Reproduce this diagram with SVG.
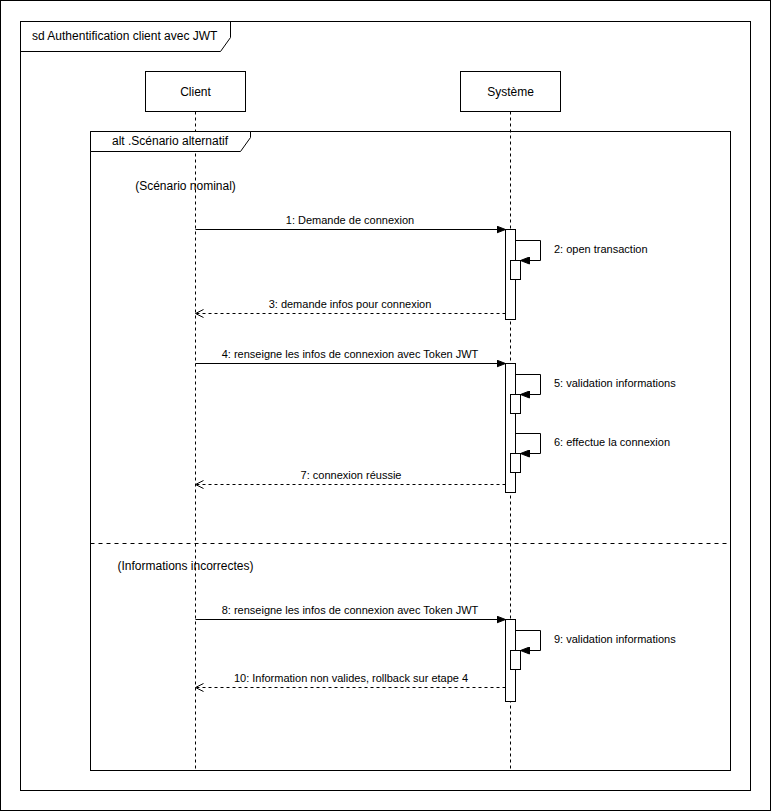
<svg xmlns="http://www.w3.org/2000/svg" width="771" height="811" viewBox="0 0 771 811">
  <style>
    .box { fill: #ffffff; stroke: #000000; stroke-width: 1; }
    .line { fill: none; stroke: #000000; stroke-width: 1; }
    .life { fill: none; stroke: #000000; stroke-width: 1; stroke-dasharray: 3 3; }
    .ret { fill: none; stroke: #000000; stroke-width: 1; stroke-dasharray: 3 3; }
    .sep { fill: none; stroke: #000000; stroke-width: 1; stroke-dasharray: 4 4; }
    text { font-family: "Liberation Sans", Arial, Helvetica, sans-serif; fill: #000000; }
    .t12 { font-size: 12px; }
    .t11 { font-size: 11px; }
  </style>
  <defs>
    <marker id="block" markerWidth="10" markerHeight="8" refX="9" refY="4" orient="auto" markerUnits="userSpaceOnUse">
      <path d="M0,0.5 L9,4 L0,7.5 Z" fill="#000000" stroke="#000000" stroke-width="1"/>
    </marker>
    <marker id="open" markerWidth="11" markerHeight="10" refX="9" refY="5" orient="auto" markerUnits="userSpaceOnUse">
      <path d="M1,1 L9,5 L1,9" fill="none" stroke="#000000" stroke-width="1"/>
    </marker>
  </defs>

  <rect x="0" y="0" width="771" height="811" fill="#ffffff"/>
  <rect class="box" x="0.5" y="0.5" width="770" height="810"/>

  <!-- sd frame -->
  <g id="frame-sd">
    <rect class="box" x="20.5" y="21.5" width="730" height="769"/>
    <path class="line" d="M20.5,51.5 H220.5 L230.5,37.5 V21.5"/>
    <text class="t12" x="32" y="40">sd Authentification client avec JWT</text>
  </g>

  <!-- lifelines -->
  <g id="client">
    <line class="life" x1="195.5" y1="111.5" x2="195.5" y2="770"/>
    <rect class="box" x="145.5" y="71.5" width="100" height="40"/>
    <text class="t12" x="195.5" y="96" text-anchor="middle">Client</text>
  </g>
  <g id="systeme">
    <line class="life" x1="510.5" y1="111.5" x2="510.5" y2="770"/>
    <rect class="box" x="460.5" y="71.5" width="100" height="40"/>
    <text class="t12" x="510.5" y="96" text-anchor="middle">Système</text>
  </g>

  <!-- alt fragment -->
  <g id="alt">
    <rect x="90.5" y="131.5" width="640" height="639" fill="none" stroke="#000000"/>
    <path class="box" d="M90.5,131.5 H250.5 V137.5 L240.5,151.5 H90.5 Z"/>
    <text class="t12" x="170" y="145" text-anchor="middle">alt .Scénario alternatif</text>
    <line class="sep" x1="90.5" y1="543.5" x2="730.5" y2="543.5"/>
    <text class="t12" x="185.5" y="190" text-anchor="middle">(Scénario nominal)</text>
    <text class="t12" x="185.5" y="570" text-anchor="middle">(Informations incorrectes)</text>
  </g>

  <!-- activations -->
  <g id="activation-1">
    <rect class="box" x="505.5" y="229.5" width="10" height="90"/>
    <rect class="box" x="510.5" y="260.5" width="10" height="19"/>
  </g>
  <g id="activation-2">
    <rect class="box" x="505.5" y="363.5" width="10" height="129"/>
    <rect class="box" x="510.5" y="394.5" width="10" height="19"/>
    <rect class="box" x="510.5" y="453.5" width="10" height="19"/>
  </g>
  <g id="activation-3">
    <rect class="box" x="505.5" y="619.5" width="10" height="82"/>
    <rect class="box" x="510.5" y="650.5" width="10" height="19"/>
  </g>

  <!-- messages -->
  <g id="connectors">
    <line class="line" x1="195.5" y1="229.5" x2="505.5" y2="229.5" marker-end="url(#block)"/>
    <path class="line" d="M515.5,240.5 H540.5 V260.5 H520.5" marker-end="url(#block)"/>
    <line class="ret" x1="505.5" y1="313.5" x2="195.5" y2="313.5" marker-end="url(#open)"/>
    <line class="line" x1="195.5" y1="363.5" x2="505.5" y2="363.5" marker-end="url(#block)"/>
    <path class="line" d="M515.5,374.5 H540.5 V394.5 H520.5" marker-end="url(#block)"/>
    <path class="line" d="M515.5,433.5 H540.5 V453.5 H520.5" marker-end="url(#block)"/>
    <line class="ret" x1="505.5" y1="484.5" x2="195.5" y2="484.5" marker-end="url(#open)"/>
    <line class="line" x1="195.5" y1="619.5" x2="505.5" y2="619.5" marker-end="url(#block)"/>
    <path class="line" d="M515.5,630.5 H540.5 V650.5 H520.5" marker-end="url(#block)"/>
    <line class="ret" x1="505.5" y1="687.5" x2="195.5" y2="687.5" marker-end="url(#open)"/>
  </g>

  <!-- message labels -->
  <g id="labels">
    <text class="t11" x="350" y="224" text-anchor="middle">1: Demande de connexion</text>
    <text class="t11" x="554" y="253">2: open transaction</text>
    <text class="t11" x="350" y="308" text-anchor="middle">3: demande infos pour connexion</text>
    <text class="t11" x="350" y="358" text-anchor="middle">4: renseigne les infos de connexion avec Token JWT</text>
    <text class="t11" x="554" y="387">5: validation informations</text>
    <text class="t11" x="554" y="446">6: effectue la connexion</text>
    <text class="t11" x="351" y="479" text-anchor="middle">7: connexion réussie</text>
    <text class="t11" x="350" y="614" text-anchor="middle">8: renseigne les infos de connexion avec Token JWT</text>
    <text class="t11" x="554" y="643">9: validation informations</text>
    <text class="t11" x="351" y="682" text-anchor="middle">10: Information non valides, rollback sur etape 4</text>
  </g>
</svg>
